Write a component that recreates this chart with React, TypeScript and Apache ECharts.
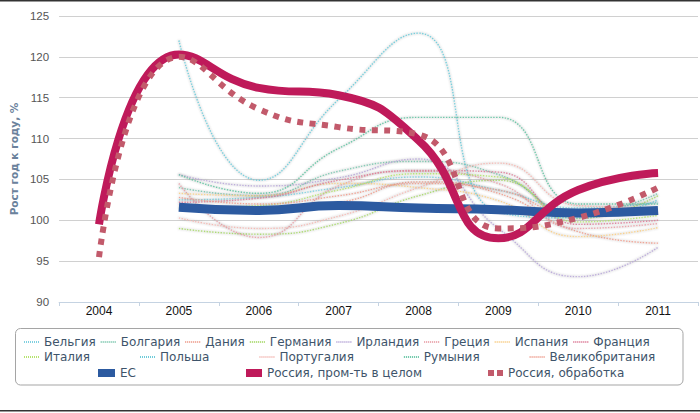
import { useEffect, useRef } from "react";
import * as echarts from "echarts";

// ── Data ──────────────────────────────────────────────────────────────────────
const YEARS = ["2004", "2005", "2006", "2007", "2008", "2009", "2010", "2011"];

const COUNTRIES = [
  "Бельгия", "Болгария", "Дания", "Германия", "Ирландия", "Греция", "Испания",
  "Франция", "Италия", "Польша", "Португалия", "Румыния", "Великобритания",
];

const BELGIUM = [null, 102.5, 102.8, 104.0, 105.3, 103.7, 101.5, 102.2];
const BULGARIA = [null, 104.0, 103.0, 106.0, 107.2, 105.6, 100.8, 103.3];
const DENMARK = [null, 101.9, 101.6, 102.2, 104.7, 103.3, 98.6, 97.2];
const GERMANY = [null, 99.0, 98.3, 99.6, 103.0, 104.9, 100.2, 103.0];
const IRELAND = [null, 105.6, 104.2, 105.2, 107.5, 99.0, 93.1, 96.7];
const GREECE = [null, 104.5, 97.9, 104.2, 106.0, 104.5, 99.0, 99.6];
const SPAIN = [null, 103.3, 103.0, 104.5, 104.0, 102.4, 98.0, 99.1];
const FRANCE = [null, 102.2, 102.7, 104.9, 106.1, 105.9, 99.5, 100.0];
const ITALY = [null, 101.5, 101.8, 103.7, 105.7, 105.3, 99.8, 100.6];
const POLAND = [null, 122.0, 104.9, 114.8, 122.9, 101.0, 100.3, 102.5];
const PORTUGAL = [null, 100.3, 99.0, 100.5, 104.0, 107.0, 101.8, 101.5];
const ROMANIA = [null, 105.6, 103.3, 108.8, 112.6, 112.6, 102.0, 102.0];
const UK = [null, 102.8, 102.0, 103.0, 104.5, 103.7, 100.5, 101.0];

const COUNTRY_VALUES = [
  BELGIUM, BULGARIA, DENMARK, GERMANY, IRELAND, GREECE, SPAIN,
  FRANCE, ITALY, POLAND, PORTUGAL, ROMANIA, UK,
];

const EU = [null, 101.6, 101.2, 101.8, 101.5, 101.3, 100.9, 101.2];
const RUSSIA_TOTAL = [99.5, 120.3, 116.2, 115.3, 109.8, 97.8, 103.7, 105.8];
const RUSSIA_MANUF = [95.5, 120.0, 113.6, 111.4, 110.5, 99.0, 100.3, 104.0];

const EU_NAME = "ЕС";
const RUSSIA_TOTAL_NAME = "Россия, пром-ть в целом";
const RUSSIA_MANUF_NAME = "Россия, обработка";

// ── Styles ────────────────────────────────────────────────────────────────────
const COUNTRY_COLORS = [
  "#7fd0e0", "#7ec8b0", "#ee9f8f", "#a8d96c", "#b9a9d9", "#e9a1a9", "#f8cf8a",
  "#dd7f9a", "#b5e36e", "#6ecbd9", "#f3b8b3", "#62c3a2", "#ee9f90",
];

const DOTTED_ICON = "path://M0,0h1v2h-1zM2,0h1v2h-1zM4,0h1v2h-1zM6,0h1v2h-1zM8,0h1v2h-1zM10,0h1v2h-1zM12,0h1v2h-1zM14,0h1v2h-1z";
const SQUARES_ICON = "path://M0,0h6v6h-6zM9,0h6v6h-6z";

const LEGEND_TEXT = { color: "#3e546a", fontSize: 12, fontFamily: "DejaVu Sans" };
const AXIS_FONT = "Liberation Sans";

function legendRow(names: string[], left: number, top: number, itemGap: number, extra: object = {}) {
  return {
    left, top, itemGap, padding: 0, orient: "horizontal" as const,
    itemWidth: 15, itemHeight: 2, icon: DOTTED_ICON,
    itemStyle: { borderWidth: 0, shadowBlur: 0 },
    textStyle: LEGEND_TEXT,
    data: names,
    ...extra,
  };
}

export default function App() {
  const ref = useRef<HTMLDivElement>(null);

  useEffect(() => {
    document.body.style.margin = "0";
    const el = ref.current;
    if (!el) return;
    const chart = echarts.init(el, null, { renderer: "svg" });

    // thin dotted country lines with a soft grey halo, like the original
    const countrySeries = COUNTRIES.map((name, i) => ({
      name,
      type: "line" as const,
      data: COUNTRY_VALUES[i],
      smooth: true,
      symbol: "none",
      z: 2,
      lineStyle: {
        color: COUNTRY_COLORS[i], width: 1.4, type: "dotted" as const, opacity: 0.9,
        shadowColor: "rgba(70,70,70,0.55)", shadowBlur: 2,
      },
      itemStyle: { color: COUNTRY_COLORS[i] },
    }));

    chart.setOption({
      animation: false,
      backgroundColor: "#fff",
      grid: { left: 56, right: 2, top: 16, bottom: 111 },
      xAxis: {
        type: "category",
        data: YEARS,
        boundaryGap: true,
        axisLine: { lineStyle: { color: "#c5d3e2", width: 1 } },
        axisTick: { show: true, length: 4, lineStyle: { color: "#c5d3e2" } },
        axisLabel: { color: "#111", fontSize: 12, fontFamily: AXIS_FONT, margin: 3 },
      },
      yAxis: {
        type: "value",
        min: 90, max: 125, interval: 5,
        name: "Рост год к году, %",
        nameLocation: "middle",
        nameGap: 39,
        nameTextStyle: { color: "#6b829c", fontWeight: "bold", fontSize: 10.5, fontFamily: "DejaVu Sans" },
        axisLine: { show: false },
        axisTick: { show: false },
        axisLabel: { color: "#555", fontSize: 11.5, fontFamily: AXIS_FONT, margin: 10 },
        splitLine: { lineStyle: { color: "#d0d0d0", width: 1 } },
      },
      legend: [
        legendRow(COUNTRIES.slice(0, 8), 24, 336, 5),
        legendRow(COUNTRIES.slice(8), 24, 351, 50),
        legendRow([EU_NAME], 98, 367, 0, { icon: "rect", itemWidth: 17, itemHeight: 8 }),
        legendRow([RUSSIA_TOTAL_NAME], 246, 367, 0, { icon: "rect", itemWidth: 16, itemHeight: 8 }),
        legendRow([RUSSIA_MANUF_NAME], 488, 367, 0, { icon: SQUARES_ICON, itemWidth: 15, itemHeight: 6 }),
      ],
      graphic: [
        { type: "rect", shape: { x: 0, y: 0, width: 700, height: 1.5 }, style: { fill: "#333" }, silent: true },
        { type: "rect", shape: { x: 0, y: 410, width: 700, height: 1.5 }, style: { fill: "#333" }, silent: true },
        {
          type: "rect", silent: true, z: -1,
          shape: { x: 15.5, y: 328.5, width: 667.5, height: 56.5, r: 5 },
          style: { fill: "none", stroke: "#a5a5a5", lineWidth: 1 },
        },
      ],
      series: [
        ...countrySeries,
        {
          name: EU_NAME,
          type: "line",
          data: EU,
          smooth: true,
          symbol: "none",
          z: 3,
          lineStyle: { color: "#2c5aa0", width: 9 },
          itemStyle: { color: "#2c5aa0" },
        },
        {
          name: RUSSIA_TOTAL_NAME,
          type: "line",
          data: RUSSIA_TOTAL,
          smooth: true,
          symbol: "none",
          z: 4,
          lineStyle: { color: "#bf1a5a", width: 8 },
          itemStyle: { color: "#bf1a5a" },
        },
        {
          name: RUSSIA_MANUF_NAME,
          type: "line",
          data: RUSSIA_MANUF,
          smooth: true,
          symbol: "none",
          z: 5,
          lineStyle: { color: "#c25a6b", width: 6, type: [6, 6.5] },
          itemStyle: { color: "#c25a6b" },
        },
      ],
    });

    return () => { chart.dispose(); };
  }, []);

  return <div ref={ref} style={{ width: 700, height: 413 }} />;
}
